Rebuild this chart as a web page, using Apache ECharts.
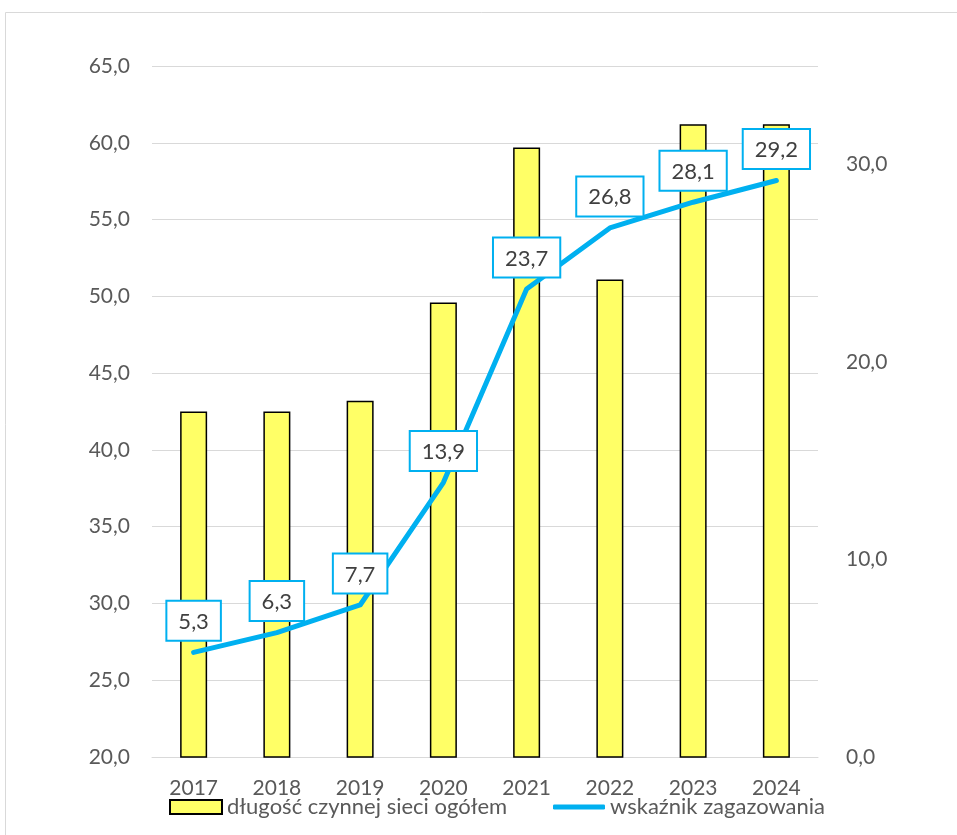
<!DOCTYPE html>
<html>
<head>
<meta charset="utf-8">
<script src="https://cdn.jsdelivr.net/npm/echarts@6/dist/echarts.min.js"></script>
<style>html,body{margin:0;padding:0;background:#fff;}#c{width:957px;height:835px;}</style>
</head>
<body>
<div id="c"></div>
<script>
const categories = ['2017','2018','2019','2020','2021','2022','2023','2024'];
const networkLength = [42.5, 42.5, 43.2, 49.6, 59.7, 51.1, 61.2, 61.2];
const gasificationRate = [5.3, 6.3, 7.7, 13.9, 23.7, 26.8, 28.1, 29.2];
const barName = 'długość czynnej sieci ogółem';
const lineName = 'wskaźnik zagazowania';

const FONT = 'Lato';
const fmt = v => Number(v).toFixed(1).replace('.', ',');

const chart = echarts.init(document.getElementById('c'), null, {renderer: 'canvas'});
chart.setOption({
  backgroundColor: '#ffffff',
  animation: false,
  textStyle: {fontFamily: FONT},
  graphic: [{
    type: 'rect', silent: true,
    shape: {x: 5.5, y: 12.5, width: 1000, height: 1000},
    style: {fill: 'none', stroke: '#d9d9d9', lineWidth: 1}
  }],
  grid: {left: 152, right: 139, top: 66, bottom: 78},
  legend: [{
    data: [{name: barName, icon: 'rect'}],
    left: 164, top: 791, itemWidth: 52, itemHeight: 14, itemGap: 0,
    textStyle: {fontFamily: FONT, fontSize: 22, color: '#595959'}
  }, {
    data: [{name: lineName, icon: 'roundRect'}],
    left: 548, top: 791, itemWidth: 52, itemHeight: 5, itemGap: 0,
    textStyle: {fontFamily: FONT, fontSize: 22, color: '#595959'}
  }],
  xAxis: {
    type: 'category', data: categories,
    axisLine: {lineStyle: {color: '#d9d9d9', width: 1}},
    axisTick: {show: false},
    axisLabel: {color: '#595959', fontSize: 21, fontFamily: FONT, margin: 21}
  },
  yAxis: [{
    type: 'value', min: 20, max: 65, interval: 5,
    axisLine: {show: false}, axisTick: {show: false},
    splitLine: {lineStyle: {color: '#d9d9d9', width: 1}},
    axisLabel: {color: '#595959', fontSize: 21, fontFamily: FONT, margin: 22, formatter: fmt}
  }, {
    type: 'value', min: 0, max: 35, interval: 10,
    axisLine: {show: false}, axisTick: {show: false},
    splitLine: {show: false},
    axisLabel: {color: '#595959', fontSize: 21, fontFamily: FONT, margin: 28, formatter: fmt, showMaxLabel: false}
  }],
  series: [{
    name: barName, type: 'bar', data: networkLength, barWidth: 27,
    itemStyle: {color: '#FFFF66', borderColor: '#000000', borderWidth: 1.5}
  }, {
    name: lineName, type: 'line', yAxisIndex: 1, data: gasificationRate,
    symbol: 'circle', symbolSize: 1, showSymbol: true, smooth: false,
    lineStyle: {color: '#00B0F0', width: 5, cap: 'round', join: 'round'},
    itemStyle: {color: '#00B0F0'},
    label: {
      show: true, position: 'top', distance: 12,
      formatter: p => fmt(p.value),
      color: '#404040', fontSize: 22, fontFamily: FONT,
      backgroundColor: '#ffffff', borderColor: '#00B0F0', borderWidth: 2,
      padding: [9, 11, 7, 11]
    }
  }]
});
</script>
</body>
</html>
